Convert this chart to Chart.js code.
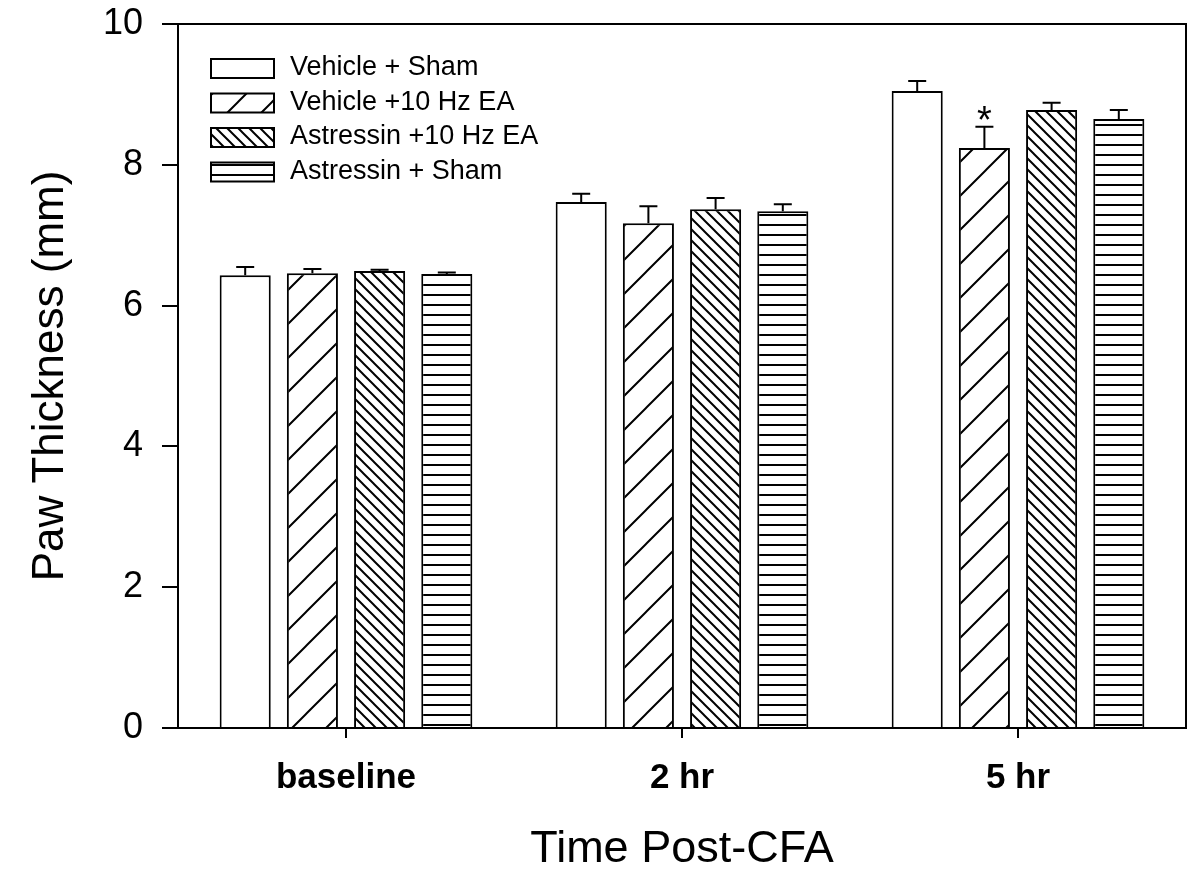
<!DOCTYPE html>
<html>
<head>
<meta charset="utf-8">
<script src="https://cdn.jsdelivr.net/npm/chart.js@4"></script>
<style>
  html, body { margin: 0; padding: 0; background: #fff; }
  #wrap { width: 1200px; height: 880px; }
</style>
</head>
<body>
<div id="wrap"><canvas id="pawChart" width="1200" height="880"></canvas></div>
<script>
// ── Data ───────────────────────────────────────────────
const timepoints   = ["baseline", "2 hr", "5 hr"];
const groupNames   = ["Vehicle + Sham", "Vehicle +10 Hz EA", "Astressin +10 Hz EA", "Astressin + Sham"];
const vehSham      = [6.43, 7.47, 9.05];
const vehShamErr   = [0.12, 0.12, 0.14];
const vehEA        = [6.46, 7.17, 8.24];
const vehEAErr     = [0.06, 0.24, 0.30];
const astEA        = [6.49, 7.37, 8.78];
const astEAErr     = [0.02, 0.16, 0.10];
const astSham      = [6.45, 7.34, 8.65];
const astShamErr   = [0.02, 0.10, 0.13];
const yTicks       = [0, 2, 4, 6, 8, 10];
const sigMarks     = [{ dataset: 1, index: 2, text: "*" }];

const FONT = "'Liberation Sans', Arial, sans-serif";

// ── Hatch patterns ─────────────────────────────────────
function hatch(kind) {
  if (kind === "none") return "#ffffff";
  var c = document.createElement("canvas");
  var s = kind === "fwd" ? 34 : (kind === "back" ? 11 : 10);
  c.width = s; c.height = s;
  var g = c.getContext("2d");
  g.fillStyle = "#fff";
  g.fillRect(0, 0, s, s);
  g.strokeStyle = "#000";
  g.fillStyle = "#000";
  g.lineWidth = 2;
  g.beginPath();
  if (kind === "fwd") {
    g.moveTo(0, s); g.lineTo(s, 0);
    g.moveTo(-2, 2); g.lineTo(2, -2);
    g.moveTo(s - 2, s + 2); g.lineTo(s + 2, s - 2);
    g.stroke();
  } else if (kind === "back") {
    g.moveTo(0, 0); g.lineTo(s, s);
    g.moveTo(-2, s - 2); g.lineTo(2, s + 2);
    g.moveTo(s - 2, -2); g.lineTo(s + 2, 2);
    g.stroke();
  } else {
    g.fillRect(0, 4, s, 2);
  }
  return g.createPattern(c, "repeat");
}

const fills  = [hatch("none"), hatch("fwd"), hatch("back"), hatch("horiz")];
const series = [vehSham, vehEA, astEA, astSham];
const errors = [vehShamErr, vehEAErr, astEAErr, astShamErr];

// ── Plugin: frame, error bars, significance, legend ────
const extras = {
  id: "extras",
  afterDatasetsDraw: function (chart) {
    var ctx = chart.ctx, y = chart.scales.y, a = chart.chartArea;
    ctx.save();
    ctx.strokeStyle = "#000";
    ctx.lineWidth = 2;

    // error bars (upper only)
    series.forEach(function (vals, i) {
      var meta = chart.getDatasetMeta(i);
      meta.data.forEach(function (bar, j) {
        var top = y.getPixelForValue(vals[j] + errors[i][j]);
        ctx.beginPath();
        ctx.moveTo(bar.x, bar.y);
        ctx.lineTo(bar.x, top);
        ctx.moveTo(bar.x - 9, top);
        ctx.lineTo(bar.x + 9, top);
        ctx.stroke();
      });
    });

    // box top + right
    ctx.beginPath();
    ctx.moveTo(a.left, a.top);
    ctx.lineTo(a.right, a.top);
    ctx.lineTo(a.right, a.bottom);
    ctx.stroke();

    // significance mark
    ctx.fillStyle = "#000";
    ctx.font = "38px " + FONT;
    ctx.textAlign = "center";
    ctx.textBaseline = "alphabetic";
    sigMarks.forEach(function (m) {
      var bar = chart.getDatasetMeta(m.dataset).data[m.index];
      var top = y.getPixelForValue(series[m.dataset][m.index] + errors[m.dataset][m.index]);
      ctx.fillText(m.text, bar.x, top + 6);
    });

    // legend
    ctx.font = "27px " + FONT;
    ctx.textAlign = "left";
    ctx.textBaseline = "middle";
    groupNames.forEach(function (name, i) {
      var cy = 68 + i * 34.5;
      ctx.fillStyle = fills[i];
      ctx.fillRect(211, cy - 9, 63, 19);
      ctx.strokeRect(211, cy - 9, 63, 19);
      ctx.fillStyle = "#000";
      ctx.fillText(name, 290, cy);
    });
    ctx.restore();
  }
};

new Chart(document.getElementById("pawChart"), {
  type: "bar",
  data: {
    labels: timepoints,
    datasets: groupNames.map(function (name, i) {
      return {
        label: name,
        data: series[i],
        backgroundColor: fills[i],
        borderColor: "#000",
        borderWidth: 2,
        borderSkipped: "bottom",
        categoryPercentage: 0.80,
        barPercentage: 0.76
      };
    })
  },
  options: {
    responsive: false,
    animation: false,
    devicePixelRatio: 1,
    layout: { padding: { top: 24, right: 14, left: 0, bottom: 0 } },
    plugins: {
      legend: { display: false },
      tooltip: { enabled: false }
    },
    scales: {
      x: {
        afterFit: function (s) {
          s.height = 152;
          s.paddingLeft = 0; s.paddingRight = 0;
        },
        grid: {
          offset: false,
          drawOnChartArea: false,
          color: "#000",
          lineWidth: 2,
          tickLength: 10
        },
        border: { display: true, color: "#000", width: 2 },
        ticks: {
          color: "#000",
          padding: 23,
          font: { family: FONT, size: 35, weight: "bold", lineHeight: 1 }
        },
        title: {
          display: true,
          text: "Time Post-CFA",
          color: "#000",
          padding: { top: 0, bottom: 8 },
          font: { family: FONT, size: 45, lineHeight: 1 }
        }
      },
      y: {
        min: 0,
        max: 10,
        afterFit: function (s) {
          s.width = 178;
          s.paddingTop = 0; s.paddingBottom = 0;
        },
        afterBuildTicks: function (s) {
          s.ticks = yTicks.map(function (v) { return { value: v }; });
        },
        grid: {
          drawOnChartArea: false,
          color: "#000",
          lineWidth: 2,
          tickLength: 16
        },
        border: { display: true, color: "#000", width: 2 },
        ticks: {
          color: "#000",
          padding: 19,
          font: { family: FONT, size: 36, lineHeight: 1 }
        },
        title: {
          display: true,
          text: "Paw Thickness (mm)",
          color: "#000",
          padding: { top: 29, bottom: 0 },
          font: { family: FONT, size: 44, lineHeight: 1 }
        }
      }
    }
  },
  plugins: [extras]
});
</script>
</body>
</html>
